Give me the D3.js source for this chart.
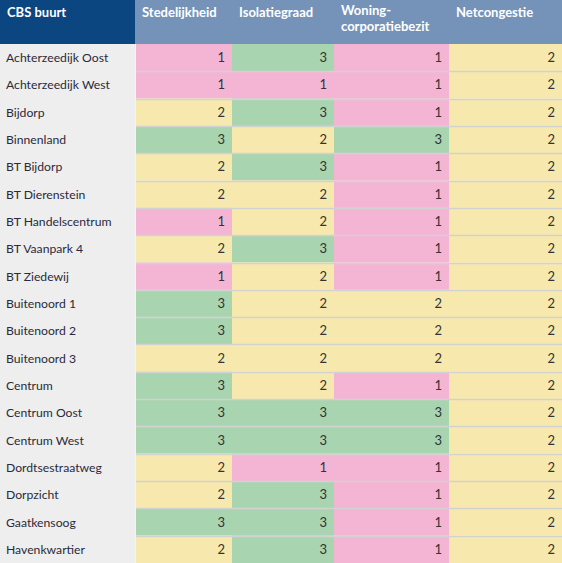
<!DOCTYPE html>
<html><head><meta charset="utf-8">
<script src="https://cdn.jsdelivr.net/npm/d3@7"></script>
<style>
html,body{margin:0;padding:0;background:#fff;}
svg{display:block;font-family:Lato, "Open Sans", sans-serif;}
</style></head>
<body>
<svg id="chart" width="562" height="563"></svg>
<script>
const buurten = ["Achterzeedijk Oost","Achterzeedijk West","Bijdorp","Binnenland","BT Bijdorp","BT Dierenstein","BT Handelscentrum","BT Vaanpark 4","BT Ziedewij","Buitenoord 1","Buitenoord 2","Buitenoord 3","Centrum","Centrum Oost","Centrum West","Dordtsestraatweg","Dorpzicht","Gaatkensoog","Havenkwartier"];
const headers = [["CBS buurt"],["Stedelijkheid"],["Isolatiegraad"],["Woning-","corporatiebezit"],["Netcongestie"]];
const stedelijkheid  = [1,1,2,3,2,2,1,2,1,3,3,2,3,3,3,2,2,3,2];
const isolatiegraad  = [3,1,3,2,3,2,2,3,2,2,2,2,2,3,3,1,3,3,3];
const woningcorp     = [1,1,1,3,1,1,1,1,1,2,2,2,1,3,3,1,1,1,1];
const netcongestie   = [2,2,2,2,2,2,2,2,2,2,2,2,2,2,2,2,2,2,2];
const series = [stedelijkheid, isolatiegraad, woningcorp, netcongestie];

const W = 562, H = 563, headerH = 44;
const colEdges = [0,135,232,334,449,562];
const svg = d3.select("#chart");

const y = d3.scaleBand().domain(d3.range(buurten.length)).range([headerH, H]).paddingInner(0);
const color = d3.scaleOrdinal().domain([1,2,3]).range(["#f4b4d4","#f7e8ae","#a8d4b0"]);

// header
headers.forEach((h,i)=>{
  svg.append("rect").attr("x",colEdges[i]).attr("y",0)
    .attr("width",colEdges[i+1]-colEdges[i]).attr("height",headerH)
    .attr("fill", i===0 ? "#0b4680" : "#7593b9");
  h.forEach((line,j)=>svg.append("text")
    .attr("x",colEdges[i]+7).attr("y",(h.length>1 ? 15 : 16.5) + j*16)
    .attr("fill","#fff").attr("font-weight","bold").attr("font-size",13)
    .text(line));
});

// first column
svg.append("rect").attr("x",0).attr("y",headerH).attr("width",colEdges[1]).attr("height",H-headerH).attr("fill","#eeeeee");
svg.selectAll("text.name").data(buurten).join("text").attr("class","name")
  .attr("x",6).attr("y",(d,i)=>y(i)+y.bandwidth()/2+4.5)
  .attr("font-size",12.2).attr("fill","#2a2a3a").text(d=>d);

// cells
series.forEach((vals,c)=>{
  const g = svg.append("g");
  g.selectAll("rect").data(vals).join("rect")
    .attr("x",colEdges[c+1]).attr("y",(d,i)=>y(i))
    .attr("width",colEdges[c+2]-colEdges[c+1]).attr("height",y.bandwidth())
    .attr("fill",d=>color(d));
  g.selectAll("text").data(vals).join("text")
    .attr("x",colEdges[c+2]-7).attr("y",(d,i)=>y(i)+y.bandwidth()/2+4.5)
    .attr("text-anchor","end").attr("font-size",13).attr("fill","#333")
    .text(d=>d);
});

// row separators in data area
svg.selectAll("line.sep").data(d3.range(1,buurten.length)).join("line").attr("class","sep")
  .attr("x1",colEdges[1]).attr("x2",W)
  .attr("y1",i=>Math.round(y(i))+0.5).attr("y2",i=>Math.round(y(i))+0.5)
  .attr("stroke","#d2d2d2").attr("stroke-width",1.5);
// faint divider between name column and data
svg.append("line").attr("x1",colEdges[1]+0.5).attr("x2",colEdges[1]+0.5).attr("y1",headerH).attr("y2",H)
  .attr("stroke","#f4f4f4").attr("stroke-width",1);
</script>
</body></html>
